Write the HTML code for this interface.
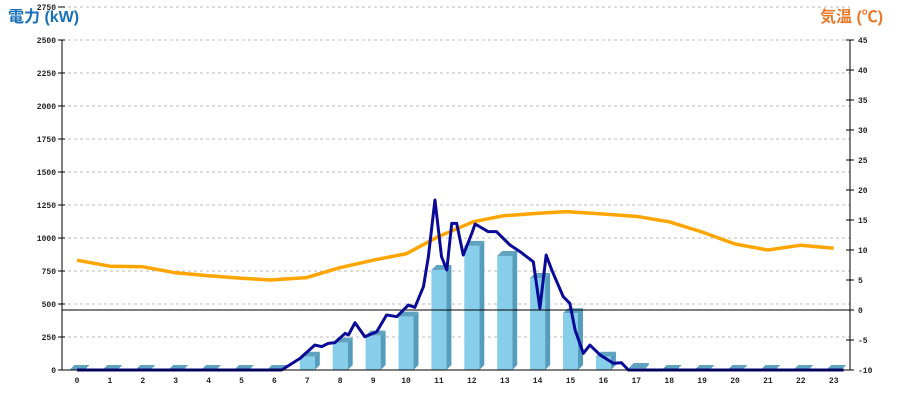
<!DOCTYPE html>
<html><head><meta charset="utf-8"><style>
body{margin:0;background:#fff;width:900px;height:400px;overflow:hidden}
svg{display:block}
text{font-family:"Liberation Mono",monospace;font-size:8px;font-weight:bold;fill:#222}
</style></head><body>
<svg id="c" width="900" height="400">
<text x="8" y="22" style="font-family:'Liberation Sans','Noto Sans CJK JP',sans-serif;font-size:16px;font-weight:bold;fill:#1a70b8">電力 (kW)</text>
<text x="820" y="22" style="font-family:'Liberation Sans','Noto Sans CJK JP',sans-serif;font-size:16px;font-weight:bold;fill:#e8782a">気温 (℃)</text>
</svg>
<script>
const hours=[0,1,2,3,4,5,6,7,8,9,10,11,12,13,14,15,16,17,18,19,20,21,22,23];
const barValues=[0,0,0,0,0,0,0,100,207,260,404,758,940,864,697,430,100,15,0,0,0,0,0,0];
const powerTimes=[0,6.22,6.78,7.23,7.44,7.64,7.84,8.15,8.25,8.45,8.75,9.11,9.41,9.72,10.07,10.27,10.53,10.68,10.88,11.08,11.24,11.39,11.54,11.74,12.0,12.1,12.5,12.75,13.16,13.47,13.87,14.07,14.26,14.43,14.78,14.98,15.14,15.39,15.59,15.9,16.3,16.55,16.76,23.3];
const powerValues=[0,0,88,189,177,202,207,278,265,358,252,290,417,404,492,475,631,858,1288,858,758,1111,1111,871,1035,1106,1048,1048,947,896,820,467,871,758,555,505,303,126,189,114,51,55,0,0];
const tempTimes=[0,1,2,3,4,5,5.87,6.98,7.99,9,10.02,10.97,12.04,12.95,13.97,14.88,15.99,17,18,19,20,21,22,23];
const tempValues=[8.3,7.3,7.2,6.2,5.7,5.3,5,5.4,7.05,8.3,9.4,12.2,14.7,15.7,16.1,16.4,16.0,15.6,14.7,13,11,10,10.8,10.3];
const leftTicks=[0,250,500,750,1000,1250,1500,1750,2000,2250,2500];
const rightTicks=[-10,-5,0,5,10,15,20,25,30,35,40,45];

const X0=62,X1=850,Y0=370,Y1=40;
const xs=h=>77+h*32.9;
const yL=v=>Y0-(v/2500)*(Y0-Y1);
const yR=t=>Y0-((t+10)/55)*(Y0-Y1);
const svg=document.getElementById('c');
const NS='http://www.w3.org/2000/svg';
function mk(tag,attrs){const e=document.createElementNS(NS,tag);for(const k in attrs)e.setAttribute(k,attrs[k]);svg.appendChild(e);return e;}

// grid + left ticks
for(let i=0;i<=12;i++){
  const v=i*250,y=yL(v);
  if(i>0){const g=mk('line',{x1:X0,x2:X1,y1:y,y2:y,stroke:'#bbb','stroke-dasharray':'3,3'});
  
  }
  const t=mk('line',{x1:X0-4,x2:X0+3,y1:y,y2:y,stroke:'#000'});
  
  
  const l=mk('text',{x:X0-6,y:y+3,'text-anchor':'end'});l.textContent=v;
  
  
}
rightTicks.forEach(t=>{
  const y=yR(t);
  const tk=mk('line',{x1:X1-4,x2:X1+4,y1:y,y2:y,stroke:'#000'});
  
  
  const l=mk('text',{x:X1+8,y:y+3});l.textContent=t;
  
  
});
// bars
hours.forEach((h,i)=>{
  const cx=xs(h),y=yL(barValues[i]),w=15,d=5,left=cx-7.5;
  const g=document.createElementNS(NS,'g');svg.appendChild(g);
  
  
  const top=document.createElementNS(NS,'polygon');
  top.setAttribute('points',`${left},${y} ${left+d},${y-d} ${left+w+d},${y-d} ${left+w},${y}`);
  top.setAttribute('fill','#5fa3c1');g.appendChild(top);
  const side=document.createElementNS(NS,'polygon');
  side.setAttribute('points',`${left+w},${y} ${left+w+d},${y-d} ${left+w+d},${Y0-d} ${left+w},${Y0}`);
  side.setAttribute('fill','#559dbc');g.appendChild(side);
  const f=document.createElementNS(NS,'rect');
  f.setAttribute('x',left);f.setAttribute('y',y);f.setAttribute('width',w);f.setAttribute('height',Y0-y);
  f.setAttribute('fill','#87ceea');g.appendChild(f);
});
// x labels
hours.forEach(h=>{
  const l=mk('text',{x:xs(h),y:383,'text-anchor':'middle','font-size':'7'});l.textContent=h;
  
  
});
// zero temp line
const z=mk('line',{x1:X0,x2:X1,y1:yR(0),y2:yR(0),stroke:'#000'});


// temperature line
const tl=mk('polyline',{points:tempTimes.map((h,i)=>xs(h)+','+yR(tempValues[i])).join(' '),fill:'none',stroke:'#ffa500','stroke-width':3.5,'stroke-linejoin':'round'});


// power line
const pl=mk('polyline',{points:powerTimes.map((h,i)=>Math.min(X1,xs(h))+','+yL(powerValues[i])).join(' '),fill:'none',stroke:'#0a0a96','stroke-width':3,'stroke-linejoin':'round'});


// axes
const la=mk('line',{x1:X0,x2:X0,y1:Y1,y2:Y0,stroke:'#000'});


const ra=mk('line',{x1:X1,x2:X1,y1:Y1,y2:Y0,stroke:'#000'});


const xa=mk('line',{x1:X0,x2:X1,y1:Y0,y2:Y0,stroke:'#000'});


</script>
</body></html>
